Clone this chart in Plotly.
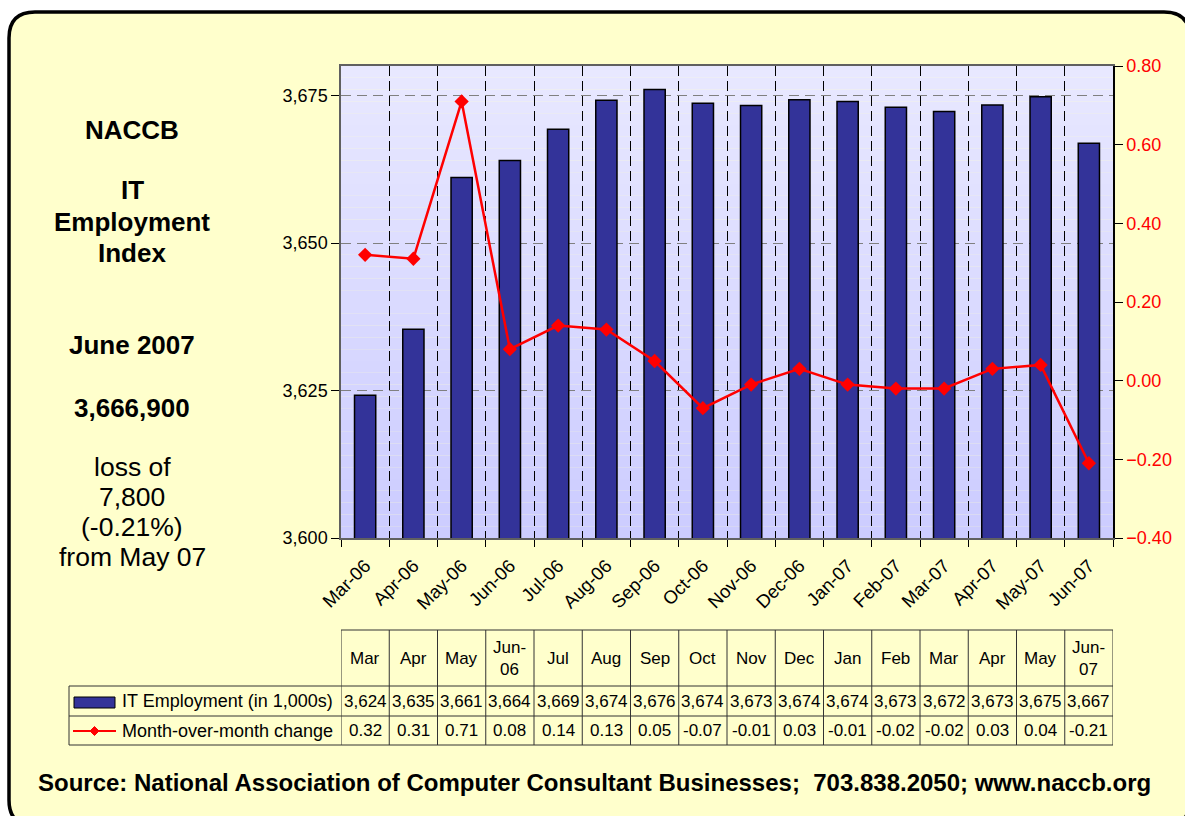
import plotly.graph_objects as go

# ---------------- data ----------------
categories = ["Mar-06", "Apr-06", "May-06", "Jun-06", "Jul-06", "Aug-06", "Sep-06", "Oct-06",
              "Nov-06", "Dec-06", "Jan-07", "Feb-07", "Mar-07", "Apr-07", "May-07", "Jun-07"]
table_headers = ["Mar", "Apr", "May", "Jun-<br>06", "Jul", "Aug", "Sep", "Oct",
                 "Nov", "Dec", "Jan", "Feb", "Mar", "Apr", "May", "Jun-<br>07"]
employment = [3624.2, 3635.4, 3661.1, 3664.0, 3669.3, 3674.2, 3676.0, 3673.7,
              3673.3, 3674.3, 3674.0, 3673.0, 3672.3, 3673.4, 3674.8, 3666.9]
mom_change = [0.32, 0.31, 0.71, 0.08, 0.14, 0.13, 0.05, -0.07,
              -0.01, 0.03, -0.01, -0.02, -0.02, 0.03, 0.04, -0.21]
series_names = ["IT Employment (in 1,000s)", "Month-over-month change"]
side_lines = ["<b>NACCB</b>", "<b>IT</b>", "<b>Employment</b>", "<b>Index</b>",
              "<b>June 2007</b>", "<b>3,666,900</b>", "loss of", "7,800", "(-0.21%)", "from May 07"]
source_text = "Source: National Association of Computer Consultant Businesses;  703.838.2050; www.naccb.org"

# ---------------- geometry helpers ----------------
W, H = 1185, 816
PL, PR, PT, PB = 341, 1113, 66, 538   # plot area in pixels


def px(x):
    return (x - PL) / (PR - PL)


def py(y):
    return (PB - y) / (PB - PT)


FONT = "Arial, Liberation Sans, sans-serif"
n = len(categories)

fig = go.Figure()

fig.add_trace(go.Bar(
    x=categories, y=employment, name=series_names[0],
    marker=dict(color="#333399", line=dict(color="black", width=1.5)),
    width=0.44, showlegend=False, yaxis="y",
))
fig.add_trace(go.Scatter(
    x=categories, y=mom_change, name=series_names[1], mode="lines+markers",
    line=dict(color="#FF0000", width=2.5),
    marker=dict(symbol="diamond", size=11, color="#FF0000"),
    showlegend=False, yaxis="y2",
))

shapes = []
# outer rounded panel
r = 26
x0, x1, y0, y1 = 9, 1190, 12, 826
path = (f"M {px(x0 + r)},{py(y0)} L {px(x1 - r)},{py(y0)} Q {px(x1)},{py(y0)} {px(x1)},{py(y0 + r)} "
        f"L {px(x1)},{py(y1 - r)} Q {px(x1)},{py(y1)} {px(x1 - r)},{py(y1)} "
        f"L {px(x0 + r)},{py(y1)} Q {px(x0)},{py(y1)} {px(x0)},{py(y1 - r)} "
        f"L {px(x0)},{py(y0 + r)} Q {px(x0)},{py(y0)} {px(x0 + r)},{py(y0)} Z")
shapes.append(dict(type="path", xref="paper", yref="paper", path=path,
                   fillcolor="#FFFFCC", line=dict(color="black", width=3.5), layer="below"))

# gradient plot background
nb = 40
ymin, ymax = 3600, 3680
for i in range(nb):
    t = i / (nb - 1)
    c1 = (204, 204, 255)
    c2 = (232, 232, 255)
    col = tuple(round(c1[k] + (c2[k] - c1[k]) * t) for k in range(3))
    shapes.append(dict(type="rect", xref="x", yref="y", x0=-0.5, x1=n - 0.5,
                       y0=ymin + (ymax - ymin) * i / nb, y1=ymin + (ymax - ymin) * (i + 1) / nb,
                       fillcolor=f"rgb{col}", line=dict(width=0), layer="below"))

# ---------------- data table ----------------
T_TOP, T_H1, T_H2, T_BOT = 630, 686, 716, 745
T_LEFT = 69
LC = "#333333"
shapes.append(dict(type="line", xref="x", yref="paper", x0=-0.5, x1=n - 0.5,
                   y0=py(T_TOP), y1=py(T_TOP), line=dict(color=LC, width=1)))
for yy in (T_H1, T_H2, T_BOT):
    shapes.append(dict(type="line", xref="paper", yref="paper", x0=px(T_LEFT), x1=1,
                       y0=py(yy), y1=py(yy), line=dict(color=LC, width=1)))
for i in range(n + 1):
    shapes.append(dict(type="line", xref="x", yref="paper", x0=i - 0.5, x1=i - 0.5,
                       y0=py(T_TOP), y1=py(T_BOT), line=dict(color=LC, width=1)))
shapes.append(dict(type="line", xref="paper", yref="paper", x0=px(T_LEFT), x1=px(T_LEFT),
                   y0=py(T_H1), y1=py(T_BOT), line=dict(color=LC, width=1)))

# legend keys
shapes.append(dict(type="rect", xref="paper", yref="paper", x0=px(74), x1=px(115),
                   y0=py(708), y1=py(697), fillcolor="#333399", line=dict(color="black", width=1)))
shapes.append(dict(type="line", xref="paper", yref="paper", x0=px(73), x1=px(116),
                   y0=py(731), y1=py(731), line=dict(color="#FF0000", width=2)))
cx, cy, d = 94.5, 731, 4.5
shapes.append(dict(type="path", xref="paper", yref="paper",
                   path=f"M {px(cx - d)},{py(cy)} L {px(cx)},{py(cy - d)} L {px(cx + d)},{py(cy)} L {px(cx)},{py(cy + d)} Z",
                   fillcolor="#FF0000", line=dict(color="#FF0000", width=1)))

annotations = []


def ann(x, y, text, size, xref="paper", xanchor="center"):
    return dict(x=x, y=y, xref=xref, yref="paper", text=text, showarrow=False,
                xanchor=xanchor, yanchor="middle",
                font=dict(size=size, color="black", family=FONT))


for i in range(n):
    annotations.append(ann(i, py((T_TOP + T_H1) / 2), table_headers[i], 17, xref="x"))
    annotations.append(ann(i, py((T_H1 + T_H2) / 2), f"{round(employment[i]):,}", 17, xref="x"))
    annotations.append(ann(i, py((T_H2 + T_BOT) / 2), f"{mom_change[i]:.2f}", 17, xref="x"))
for k, yy in enumerate(((T_H1 + T_H2) / 2, (T_H2 + T_BOT) / 2)):
    annotations.append(ann(px(120), py(yy), series_names[k], 18, xanchor="left"))

# left side text
side_y = [130, 190, 222, 253, 345, 408, 467, 497, 527, 557]
for txt, yy in zip(side_lines, side_y):
    annotations.append(ann(px(132), py(yy), txt, 26 if txt.startswith("<b>") else 26.5))

# source
annotations.append(ann(px(594), py(782), f"<b>{source_text}</b>", 24))

fig.update_layout(
    width=W, height=H,
    margin=dict(l=PL, r=W - PR, t=PT, b=H - PB, pad=0),
    paper_bgcolor="white", plot_bgcolor="rgba(0,0,0,0)",
    font=dict(family=FONT, color="black"),
    showlegend=False,
    bargap=0.56,
    shapes=shapes, annotations=annotations,
    xaxis=dict(
        type="category", range=[-0.5, n - 0.5], tickson="boundaries",
        ticks="outside", ticklen=7, tickcolor="black", tickangle=-45,
        tickfont=dict(size=18.5, color="black"), ticklabelstandoff=8,
        showgrid=True, gridcolor="black", griddash="10px,5px", gridwidth=1,
        showline=True, linecolor="#606060", linewidth=1.5, mirror=True,
    ),
    yaxis=dict(
        range=[3600, 3680], dtick=25, tick0=3600, tickformat=",d",
        ticks="outside", ticklen=8, tickcolor="black",
        tickfont=dict(size=18, color="black"),
        showgrid=True, gridcolor="#808080", griddash="10px,6px", gridwidth=1,
        showline=True, linecolor="#606060", linewidth=1.5, zeroline=False,
    ),
    yaxis2=dict(
        overlaying="y", side="right", range=[-0.4, 0.8], dtick=0.2, tick0=-0.4,
        tickformat=".2f", ticks="outside", ticklen=8, tickcolor="black",
        tickfont=dict(size=18, color="#FF0000"),
        showgrid=False, zeroline=False, showline=True, linecolor="black", linewidth=1.5,
    ),
)

fig.write_html("out.html", config={"displayModeBar": False},
               post_script="document.body.style.margin='0';document.body.style.overflow='hidden';")
